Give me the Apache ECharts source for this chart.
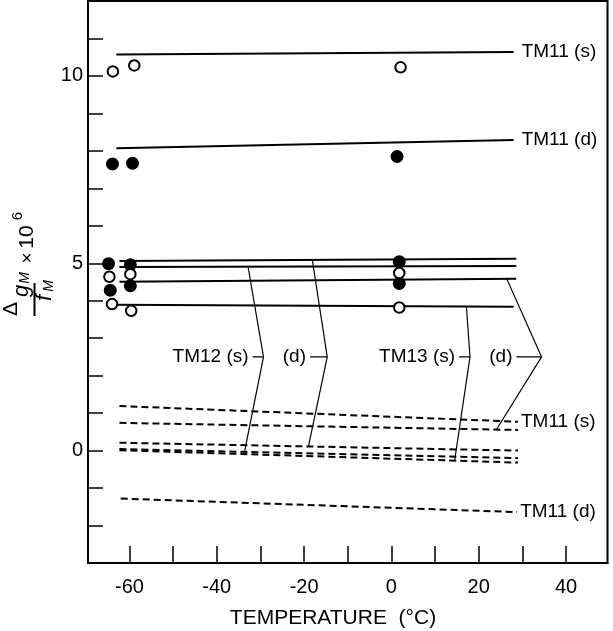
<!DOCTYPE html>
<html>
<head>
<meta charset="utf-8">
<script src="https://cdn.jsdelivr.net/npm/echarts@6/dist/echarts.min.js"></script>
<style>
  html, body { margin: 0; padding: 0; background: #fff; }
  #chart { width: 613px; height: 631px; }
</style>
</head>
<body>
<div id="chart"></div>
<script>
// axis ticks and labels
var xTicks = [-60, -50, -40, -30, -20, -10, 0, 10, 20, 30, 40];
var xLabels = [-60, -40, -20, 0, 20, 40];
var yTicks = [-2, -1, 0, 1, 2, 3, 4, 5, 6, 7, 8, 9, 10, 11];
var yLabels = [0, 5, 10];

// measured points [temperature, value]
var openPoints = [
    [-63.8, 10.12], [-58.9, 10.28], [2.1, 10.23],
    [-64.6, 4.64], [-59.8, 4.71], [1.8, 4.74],
    [-64.0, 3.91], [-59.6, 3.73], [1.8, 3.82]
];
var filledPoints = [
    [-63.9, 7.65], [-59.3, 7.67], [1.3, 7.85],
    [-64.8, 4.99], [-59.8, 4.96], [1.8, 5.04],
    [-64.4, 4.28], [-59.8, 4.40], [1.8, 4.46]
];

// theory, solid
var solidTM11s = [[-63, 10.57], [28, 10.64]];
var solidTM11d = [[-63, 8.07], [28, 8.29]];
var solidA = [[-62.3, 5.06], [28.6, 5.12]];
var solidB = [[-62.3, 4.90], [28.6, 4.93]];
var solidC = [[-62.3, 4.51], [28.6, 4.59]];
var solidD = [[-63.5, 3.89], [28, 3.84]];

// theory, dashed
var dashTM11s = [[-62.3, 1.19], [29, 0.77]];
var dash2 = [[-62.3, 0.74], [29, 0.55]];
var dash3 = [[-62.3, 0.21], [29, 0.0]];
var dash4 = [[-62.3, 0.04], [29, -0.20]];
var dash5 = [[-62.3, 0.01], [29, -0.32]];
var dashTM11d = [[-62, -1.28], [28.8, -1.64]];

// leader lines: upper end, vertex, lower end, vertex, tick start
var leadTM12s = [[-32.8, 4.88], [-29.3, 2.5], [-33.7, -0.07], [-29.3, 2.5], [-31.8, 2.5]];
var leadTM12d = [[-18.1, 5.08], [-14.7, 2.5], [-19.0, 0.11], [-14.7, 2.5], [-18.65, 2.5]];
var leadTM13s = [[17.2, 3.82], [18.0, 2.5], [14.5, -0.25], [18.0, 2.5], [15.5, 2.5]];
var leadTM13d = [[26.4, 4.59], [34.4, 2.5], [24.1, 0.57], [34.4, 2.5], [28.65, 2.5]];
var leadNames = ['TM12 (s)', '(d)', 'TM13 (s)', '(d)'];

var FONT = 'Liberation Sans, Arial, Helvetica, sans-serif';

var chart = echarts.init(document.getElementById('chart'));

function solid(data, label, dist) {
    var s = {
        type: 'line', data: data, symbol: 'none', z: 2,
        lineStyle: { color: '#000', width: 2 }
    };
    if (label) {
        s.endLabel = { show: true, formatter: label, distance: dist, color: '#000', fontSize: 19, fontFamily: FONT };
    }
    return s;
}
function dashed(data, label, dist) {
    var s = solid(data, label, dist);
    s.lineStyle.type = [7, 4];
    return s;
}
function leader(data) {
    return {
        type: 'line', data: data, symbol: 'none', z: 2,
        lineStyle: { color: '#000', width: 1.2 }
    };
}

var leads = [leadTM12s, leadTM12d, leadTM13s, leadTM13d];
var anchors = leads.map(function (l, i) {
    return { name: leadNames[i], value: l[4] };
});

// y title pieces, rotated to read bottom-to-top
function rot(text, x, y, size, italic) {
    return {
        type: 'text', x: x, y: y, rotation: Math.PI / 2,
        style: {
            text: text, fill: '#000', fontSize: size, fontFamily: FONT,
            fontStyle: italic ? 'italic' : 'normal',
            textAlign: 'center', textVerticalAlign: 'middle'
        }
    };
}

var option = {
    animation: false,
    backgroundColor: '#fff',
    grid: {
        left: 88, right: 5.5, top: 1, bottom: 68,
        show: true, borderColor: '#000', borderWidth: 2
    },
    xAxis: {
        type: 'value', min: -69.5, max: 49.5,
        axisLine: { show: true, onZero: false, lineStyle: { color: '#000', width: 2 } },
        axisTick: { show: true, inside: true, length: 17, customValues: xTicks, lineStyle: { color: '#000', width: 1.5 } },
        axisLabel: { customValues: xLabels, margin: 14, color: '#000', fontSize: 20, fontFamily: FONT },
        splitLine: { show: false }
    },
    yAxis: {
        type: 'value', min: -3, max: 12,
        axisLine: { show: true, onZero: false, lineStyle: { color: '#000', width: 2 } },
        axisTick: { show: true, inside: true, length: 15, customValues: yTicks, lineStyle: { color: '#000', width: 1.5 } },
        axisLabel: { customValues: yLabels, margin: 5, color: '#000', fontSize: 20, fontFamily: FONT },
        splitLine: { show: false }
    },
    graphic: [
        { type: 'text', x: 333, y: 618, style: { text: 'TEMPERATURE  (°C)', fill: '#000', fontSize: 21, fontFamily: FONT, textAlign: 'center', textVerticalAlign: 'middle' } },
        rot('Δ', 11, 309, 21, false),
        rot('g', 22, 291, 22, true),
        rot('M', 25, 278, 14, true),
        { type: 'line', shape: { x1: 34.5, y1: 283, x2: 34.5, y2: 316 }, style: { stroke: '#000', lineWidth: 2 } },
        rot('f', 45, 298, 22, true),
        rot('M', 49, 286, 14, true),
        rot('×', 28, 258, 19, false),
        rot('10', 27, 237, 21, false),
        rot('6', 18, 216, 15, false)
    ],
    series: [
        solid(solidTM11s, 'TM11 (s)', 8),
        solid(solidTM11d, 'TM11 (d)', 8),
        solid(solidA), solid(solidB), solid(solidC), solid(solidD),
        dashed(dashTM11s, 'TM11 (s)', 3),
        dashed(dash2), dashed(dash3), dashed(dash4), dashed(dash5),
        dashed(dashTM11d, 'TM11 (d)', 3),
        leader(leadTM12s), leader(leadTM12d), leader(leadTM13s), leader(leadTM13d),
        {
            type: 'scatter', data: anchors, symbolSize: 0, z: 3,
            itemStyle: { opacity: 1 },
            label: { show: true, position: 'left', distance: 4, formatter: '{b}', color: '#000', fontSize: 19, fontFamily: FONT }
        },
        {
            type: 'scatter', data: filledPoints, symbol: 'circle', symbolSize: 13, z: 4,
            itemStyle: { color: '#000', opacity: 1 }
        },
        {
            type: 'scatter', data: openPoints, symbol: 'circle', symbolSize: 10.5, z: 5,
            itemStyle: { color: '#fff', borderColor: '#000', borderWidth: 2, opacity: 1 }
        }
    ]
};

chart.setOption(option);
</script>
</body>
</html>
